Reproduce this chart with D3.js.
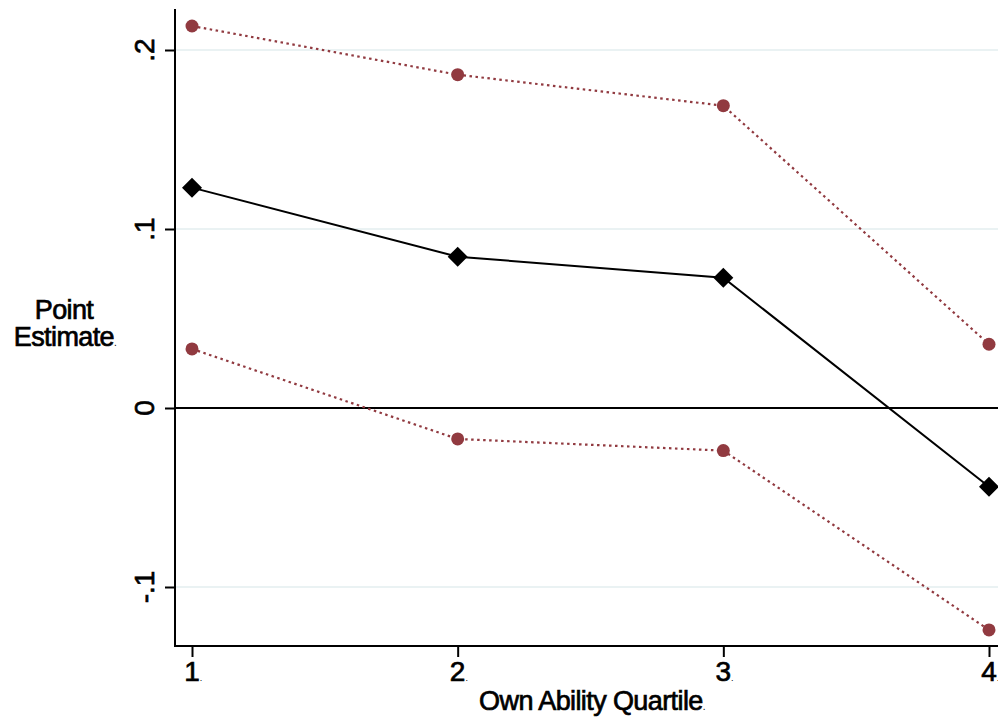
<!DOCTYPE html>
<html>
<head>
<meta charset="utf-8">
<script src="https://cdn.jsdelivr.net/npm/d3@7"></script>
<style>
  body { margin: 0; background: #fff; }
  text { font-family: "Liberation Sans", Arial, sans-serif; fill: #000; stroke: #000; stroke-width: 0.7px; }
</style>
</head>
<body>
<div id="wrapper"></div>
<script>
// quartiles and estimates
const quartiles = [1, 2, 3, 4]
const pointEst = [0.1231, 0.0845, 0.0728, -0.0440]
const upperCI = [0.2134, 0.1862, 0.1689, 0.0356]
const lowerCI = [0.0330, -0.0173, -0.0238, -0.1240]
const yTicks = [-0.1, 0, 0.1, 0.2]
const yTickLabels = ['-.1', '0', '.1', '.2']

const width = 998
const height = 719

const svg = d3.select('#wrapper')
    .append('svg')
        .attr('width', width)
        .attr('height', height)

const xScale = d3.scaleLinear()
    .domain([1, 4])
    .range([192, 989])

const yScale = d3.scaleLinear()
    .domain([0, 0.2])
    .range([408, 50])

const plotLeft = 175
const plotTop = 9
const plotBottom = 646
const plotRight = width

// grid lines
svg.append('g')
    .selectAll('line')
    .data(yTicks)
    .join('line')
        .attr('x1', plotLeft)
        .attr('x2', plotRight)
        .attr('y1', d => yScale(d))
        .attr('y2', d => yScale(d))
        .attr('stroke', '#eaf2f3')
        .attr('stroke-width', 2)

// zero line
svg.append('line')
    .attr('x1', plotLeft)
    .attr('x2', plotRight)
    .attr('y1', yScale(0))
    .attr('y2', yScale(0))
    .attr('stroke', '#000')
    .attr('stroke-width', 2)

// y axis
const yAxis = svg.append('g')
    .attr('transform', `translate(${plotLeft},0)`)
    .call(d3.axisLeft(yScale).tickValues(yTicks).tickSize(10).tickFormat(''))
yAxis.select('.domain').remove()
yAxis.selectAll('line').attr('stroke-width', 2)
svg.append('line')
    .attr('x1', plotLeft).attr('x2', plotLeft)
    .attr('y1', plotTop).attr('y2', plotBottom + 1)
    .attr('stroke', '#000').attr('stroke-width', 2)

svg.append('g')
    .selectAll('text')
    .data(yTicks)
    .join('text')
        .attr('transform', (d) => `translate(154,${yScale(d)}) rotate(-90)`)
        .attr('text-anchor', 'middle')
        .attr('font-size', 28)
        .text((d, i) => yTickLabels[i])

// x axis
const xAxis = svg.append('g')
    .attr('transform', `translate(0,${plotBottom})`)
    .call(d3.axisBottom(xScale).tickValues(quartiles).tickSize(11).tickFormat(''))
xAxis.select('.domain').remove()
xAxis.selectAll('line').attr('stroke-width', 2)
svg.append('line')
    .attr('x1', plotLeft - 1).attr('x2', plotRight)
    .attr('y1', plotBottom).attr('y2', plotBottom)
    .attr('stroke', '#000').attr('stroke-width', 2)

// digit centred on its tick, tiny dot trailing
const xLabels = svg.append('g')
    .selectAll('text')
    .data(quartiles)
    .join('text')
        .attr('x', d => xScale(d) - 7.8)
        .attr('y', 681)
        .attr('font-size', 28)
xLabels.append('tspan').text(d => d)
xLabels.append('tspan').attr('font-size', 9).attr('stroke-width', 0).text('.')

// axis titles
const xTitle = svg.append('text')
    .attr('x', 592)
    .attr('y', 710)
    .attr('text-anchor', 'middle')
    .attr('font-size', 27)
    .attr('letter-spacing', -0.6)
xTitle.append('tspan').text('Own Ability Quartile')
xTitle.append('tspan').attr('font-size', 10).attr('stroke-width', 0).text('.')

const yTitle = svg.append('text')
    .attr('text-anchor', 'middle')
    .attr('font-size', 27)
    .attr('letter-spacing', -0.6)
yTitle.append('tspan').attr('x', 64).attr('y', 319).text('Point')
const est = yTitle.append('tspan').attr('x', 65).attr('y', 346)
est.append('tspan').text('Estimate')
est.append('tspan').attr('font-size', 10).attr('stroke-width', 0).text('.')

// lines
const line = d3.line()
    .x((d, i) => xScale(quartiles[i]))
    .y(d => yScale(d))

const ciColor = '#913a40'

for (const series of [upperCI, lowerCI]) {
    svg.append('path')
        .datum(series)
        .attr('d', line)
        .attr('fill', 'none')
        .attr('stroke', ciColor)
        .attr('stroke-width', 2.2)
        .attr('stroke-dasharray', '2.5,3.5')

    svg.append('g')
        .selectAll('circle')
        .data(series)
        .join('circle')
            .attr('cx', (d, i) => xScale(quartiles[i]))
            .attr('cy', d => yScale(d))
            .attr('r', 6.5)
            .attr('fill', ciColor)
}

svg.append('path')
    .datum(pointEst)
    .attr('d', line)
    .attr('fill', 'none')
    .attr('stroke', '#000')
    .attr('stroke-width', 2)

svg.append('g')
    .selectAll('path')
    .data(pointEst)
    .join('path')
        .attr('d', d3.symbol(d3.symbolSquare, 200))
        .attr('transform', (d, i) => `translate(${xScale(quartiles[i])},${yScale(d)}) rotate(45)`)
        .attr('fill', '#000')
</script>
</body>
</html>
